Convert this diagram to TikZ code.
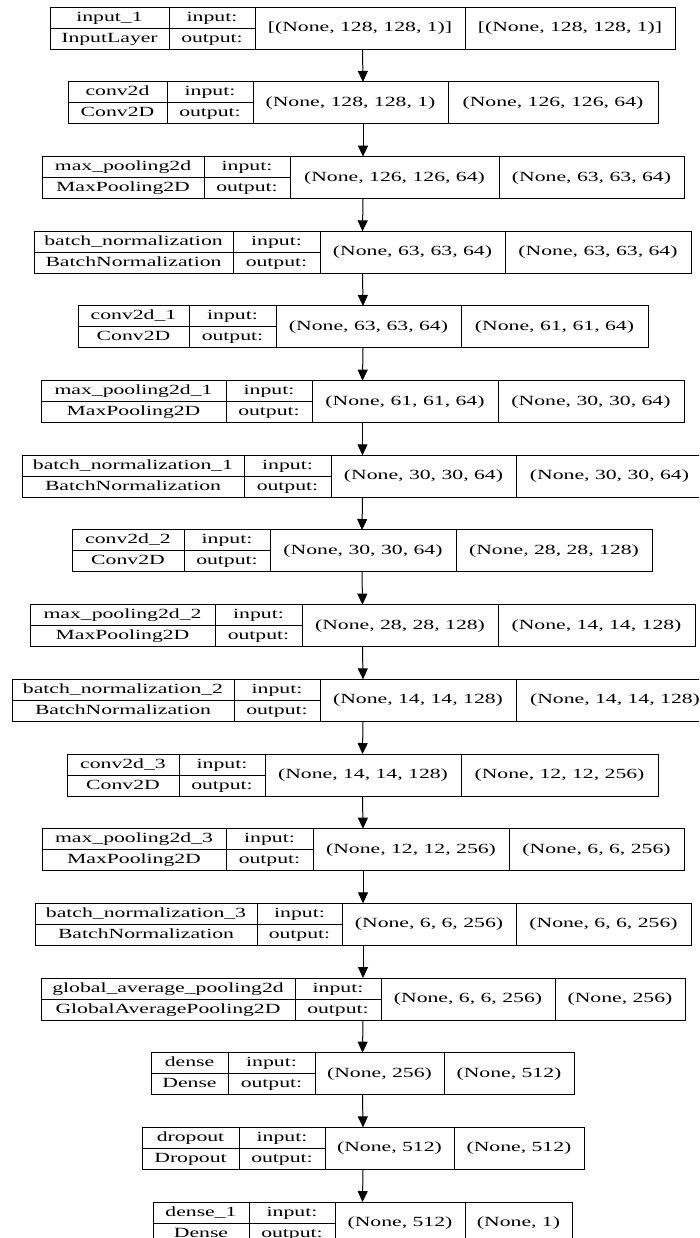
\documentclass[tikz,border=0pt]{standalone}
\usepackage{fontspec}
\setmainfont[FakeStretch=1.55]{Liberation Serif}
\usetikzlibrary{arrows.meta}
\tikzset{
  cellbox/.style={draw, line width=1pt, inner sep=0pt, outer sep=0pt, anchor=north west},
  celltext/.style={inner sep=0pt, text height=10pt, text depth=3pt, font=\fontsize{14}{16}\selectfont},
  cellline/.style={line width=1pt},
  flow/.style={line width=1pt, -{Triangle[width=10pt,length=11pt]}},
}
\begin{document}
\begin{tikzpicture}[x=1pt,y=-1pt]
\clip (0,0) rectangle (699,1238);
\foreach \n/\a/\b/\c/\d/\e/\nm/\cl/\si/\so [count=\i from 0] in {
  input1/50/169/255/465/675/input\_1/InputLayer/{[(None, 128, 128, 1)]}/{[(None, 128, 128, 1)]},
  conv2d/68/167/253/448/658/conv2d/Conv2D/{(None, 128, 128, 1)}/{(None, 126, 126, 64)},
  maxpool/42/204/290/499/684/max\_pooling2d/MaxPooling2D/{(None, 126, 126, 64)}/{(None, 63, 63, 64)},
  bnorm/34/233/320/505/691/batch\_normalization/BatchNormalization/{(None, 63, 63, 64)}/{(None, 63, 63, 64)},
  conv2d1/78/189/276/461/648/conv2d\_1/Conv2D/{(None, 63, 63, 64)}/{(None, 61, 61, 64)},
  maxpool1/41/226/312/498/684/max\_pooling2d\_1/MaxPooling2D/{(None, 61, 61, 64)}/{(None, 30, 30, 64)},
  bnorm1/22/244/331/516/703/batch\_normalization\_1/BatchNormalization/{(None, 30, 30, 64)}/{(None, 30, 30, 64)},
  conv2d2/72/184/270/456/652/conv2d\_2/Conv2D/{(None, 30, 30, 64)}/{(None, 28, 28, 128)},
  maxpool2/30/215/302/498/695/max\_pooling2d\_2/MaxPooling2D/{(None, 28, 28, 128)}/{(None, 14, 14, 128)},
  bnorm2/12/234/320/516/714/batch\_normalization\_2/BatchNormalization/{(None, 14, 14, 128)}/{(None, 14, 14, 128)},
  conv2d3/67/179/265/461/658/conv2d\_3/Conv2D/{(None, 14, 14, 128)}/{(None, 12, 12, 256)},
  maxpool3/42/226/313/509/684/max\_pooling2d\_3/MaxPooling2D/{(None, 12, 12, 256)}/{(None, 6, 6, 256)},
  bnorm3/35/257/342/516/691/batch\_normalization\_3/BatchNormalization/{(None, 6, 6, 256)}/{(None, 6, 6, 256)},
  gap/41/295/381/555/685/global\_average\_pooling2d/GlobalAveragePooling2D/{(None, 6, 6, 256)}/{(None, 256)},
  dense/151/228/315/444/574/dense/Dense/{(None, 256)}/{(None, 512)},
  dropout/142/239/325/454/584/dropout/Dropout/{(None, 512)}/{(None, 512)},
  dense1/153/249/335/465/572/dense\_1/Dense/{(None, 512)}/{(None, 1)}
}{
  \pgfmathsetmacro\y{7.3+\i*74.67}
  \node[cellbox, minimum width={(\e-\a)*1pt}, minimum height=42pt] (\n) at (\a,\y) {};
  \draw[cellline] (\b,\y) -- (\b,{\y+42});
  \draw[cellline] (\c,\y) -- (\c,{\y+42});
  \draw[cellline] (\d,\y) -- (\d,{\y+42});
  \draw[cellline] (\a,{\y+21}) -- (\c,{\y+21});
  \node[celltext] (\n-nm) at ({(\a+\b)/2},{\y+10.5}) {\nm};
  \node[celltext] (\n-cl) at ({(\a+\b)/2},{\y+31.5}) {\cl};
  \node[celltext] (\n-in) at ({(\b+\c)/2},{\y+10.5}) {input:};
  \node[celltext] (\n-out) at ({(\b+\c)/2},{\y+31.5}) {output:};
  \node[celltext] (\n-si) at ({(\c+\d)/2},{\y+21}) {\si};
  \node[celltext] (\n-so) at ({(\d+\e)/2},{\y+21}) {\so};
}
\foreach \u/\v in {input1/conv2d, conv2d/maxpool, maxpool/bnorm, bnorm/conv2d1,
  conv2d1/maxpool1, maxpool1/bnorm1, bnorm1/conv2d2, conv2d2/maxpool2,
  maxpool2/bnorm2, bnorm2/conv2d3, conv2d3/maxpool3, maxpool3/bnorm3,
  bnorm3/gap, gap/dense, dense/dropout, dropout/dense1}
  \draw[flow] (\u.south) -- (\v.north);
\end{tikzpicture}
\end{document}
